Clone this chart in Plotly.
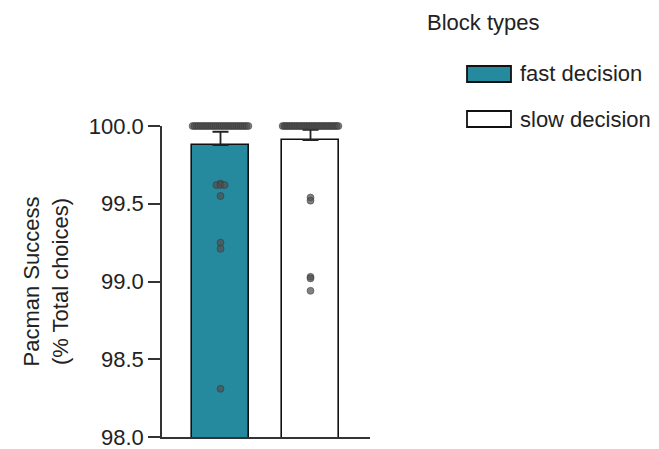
import plotly.graph_objects as go
import numpy as np

# ---------------- data ----------------
block_types = ["fast decision", "slow decision"]
bar_means = [99.877, 99.910]
bar_sem_up = [0.086, 0.065]

fast_values = [100.0, 100.0, 100.0, 100.0, 100.0, 100.0, 100.0, 100.0, 100.0, 100.0,
               100.0, 100.0, 100.0, 100.0, 100.0, 100.0, 100.0, 100.0, 100.0, 100.0,
               100.0, 100.0, 100.0, 100.0, 100.0, 100.0, 100.0, 100.0, 100.0, 100.0,
               99.63, 99.62, 99.62, 99.62, 99.55, 99.25, 99.21, 98.31]
slow_values = [100.0, 100.0, 100.0, 100.0, 100.0, 100.0, 100.0, 100.0, 100.0, 100.0,
               100.0, 100.0, 100.0, 100.0, 100.0, 100.0, 100.0, 100.0, 100.0, 100.0,
               100.0, 100.0, 100.0, 100.0, 100.0, 100.0, 100.0, 100.0, 100.0, 100.0,
               100.0, 100.0, 100.0, 100.0,
               99.54, 99.52, 99.03, 99.02, 98.94]
y_ticks = [98.0, 98.5, 99.0, 99.5, 100.0]
y_tick_labels = ["98.0", "98.5", "99.0", "99.5", "100.0"]

# ---------------- styling ----------------
TEAL = "#268a9e"
FONT = "Arial, Liberation Sans, sans-serif"
TXT = "#222222"
FS = 22
W, H = 659, 449
ML, MR, MT, MB = 162, 289, 126, 12


def spread(values, max_half=0.31, step=0.045):
    """Horizontal offsets: identical (rounded) values are spread side by side."""
    vals = np.round(np.asarray(values, dtype=float), 2)
    off = np.zeros(len(vals))
    for v in np.unique(vals):
        idx = np.where(vals == v)[0]
        k = len(idx)
        if k > 1:
            half = min(max_half, (k - 1) * step / 2)
            off[idx] = np.linspace(-half, half, k)
    return off


fig = go.Figure()

colors = [TEAL, "white"]
for i, name in enumerate(block_types):
    fig.add_trace(go.Bar(
        x=[i], y=[bar_means[i]], width=0.64, name=name,
        marker=dict(color=colors[i], line=dict(color="#111111", width=1.6)),
        error_y=dict(type="data", symmetric=False, array=[bar_sem_up[i]],
                     arrayminus=[0], color="#222222", thickness=1.8, width=8),
        showlegend=False,
    ))

for i, vals in enumerate([fast_values, slow_values]):
    xs = i + spread(vals)
    fig.add_trace(go.Scatter(
        x=xs, y=vals, mode="markers", cliponaxis=False, showlegend=False,
        marker=dict(size=7, color="rgba(80,80,80,0.72)",
                    line=dict(color="rgba(50,50,50,0.8)", width=0.6)),
    ))

fig.update_layout(
    width=W, height=H,
    margin=dict(l=ML, r=MR, t=MT, b=MB, autoexpand=False),
    paper_bgcolor="white", plot_bgcolor="white",
    font=dict(family=FONT, size=FS, color=TXT),
    bargap=0,
    xaxis=dict(range=[-0.65, 1.661], showgrid=False, zeroline=False,
               showline=True, linecolor="#333333", linewidth=1.6,
               showticklabels=False, ticks="", automargin=False),
    yaxis=dict(range=[98, 100], showgrid=False, zeroline=False, automargin=False,
               showline=True, linecolor="#333333", linewidth=1.6,
               ticks="outside", ticklen=12, tickwidth=1.6, tickcolor="#333333",
               tickvals=y_ticks, ticktext=y_tick_labels,
               ticklabeloverflow="allow",
               tickfont=dict(size=FS, family=FONT, color=TXT),
               title=dict(text="Pacman Success<br>(% Total choices)",
                          font=dict(size=FS, family=FONT, color=TXT),
                          standoff=14)),
)

# ---------------- legend (drawn manually to get wide swatches) ----------------
def px_x(p):
    return (p - ML) / (W - ML - MR)


def px_y(p):
    return (H - MB - p) / (H - MT - MB)


fig.add_annotation(text="Block types", xref="paper", yref="paper",
                   x=px_x(425), y=px_y(22), xanchor="left", yanchor="middle",
                   showarrow=False, font=dict(size=FS, family=FONT, color=TXT))
for i, name in enumerate(block_types):
    cy = 74 + i * 45
    fig.add_shape(type="rect", xref="paper", yref="paper",
                  x0=px_x(467), x1=px_x(511), y0=px_y(cy - 8), y1=px_y(cy + 8),
                  fillcolor=colors[i], line=dict(color="#111111", width=1.8))
    fig.add_annotation(text=name, xref="paper", yref="paper",
                       x=px_x(518), y=px_y(cy), xanchor="left", yanchor="middle",
                       showarrow=False, font=dict(size=FS, family=FONT, color=TXT))

fig.write_html("out.html", config={"displayModeBar": False},
               post_script="document.body.style.margin='0';")
